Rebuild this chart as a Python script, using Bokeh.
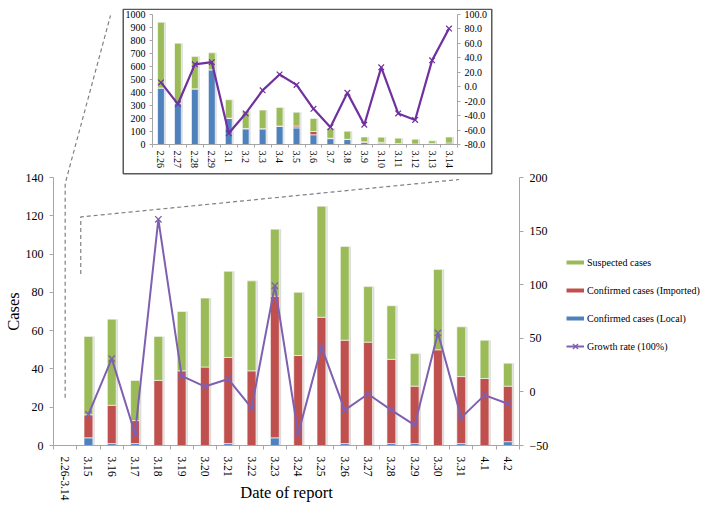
import numpy as np
from bokeh.plotting import figure
from bokeh.models import (Range1d, LinearAxis, FixedTicker, SingleIntervalTicker,
                          PrintfTickFormatter, ColumnDataSource, Legend, LegendItem)
from bokeh.transform import dodge
from bokeh.embed import file_html
from bokeh.resources import INLINE

# ---------------- data: main chart (3.15 - 4.2) ----------------
main_dates = ["2.26-3.14", "3.15", "3.16", "3.17", "3.18", "3.19", "3.20", "3.21", "3.22",
              "3.23", "3.24", "3.25", "3.26", "3.27", "3.28", "3.29", "3.30", "3.31", "4.1", "4.2"]
main_local = [0, 4, 1, 1, 0, 0, 0, 1, 0, 4, 0, 0, 1, 0, 1, 1, 0, 1, 0, 2]
main_imported = [0, 12, 20, 12, 34, 39, 41, 45, 39, 74, 47, 67, 54, 54, 44, 30, 50, 35, 35, 29]
main_suspected = [0, 41, 45, 21, 23, 31, 36, 45, 47, 35, 33, 58, 49, 29, 28, 17, 42, 26, 20, 12]
main_growth = [None, -21, 31, -39, 161, 15, 5, 12, -15, 99, -39, 42, -17, -2, -17, -31, 55, -24, -3, -11]

# ---------------- data: inset (2.26 - 3.14) ----------------
inset_dates = ["2.26", "2.27", "2.28", "2.29", "3.1", "3.2", "3.3", "3.4", "3.5", "3.6",
               "3.7", "3.8", "3.9", "3.10", "3.11", "3.12", "3.13", "3.14"]
inset_local = [435, 320, 428, 575, 200, 120, 120, 140, 128, 75, 45, 38, 15, 8, 4, 2, 3, 3]
inset_imported = [0, 0, 0, 0, 3, 3, 2, 2, 14, 25, 3, 2, 6, 8, 3, 2, 5, 9]
inset_suspected = [505, 459, 248, 130, 141, 132, 143, 143, 106, 100, 77, 62, 37, 40, 42, 36, 20, 45]
inset_growth = [6, -24, 31, 34, -64.5, -37, -5, 17, 2.5, -30.6, -56, -8.5, -52.6, 26.8, -37, -46, 36.5, 80.5]

series_names = ["Suspected cases", "Confirmed cases (Imported)", "Confirmed cases (Local)", "Growth rate (100%)"]

# ---------------- styles ----------------
FONT = "Liberation Serif"
GREEN, RED, BLUE = "#9BBB59", "#C0504D", "#4F81BD"
PURPLE_MAIN, PURPLE_INSET = "#7F60B0", "#7030A0"
AXIS_GRAY = "#A6A6A6"
SHADOW = "#DCDCDC"

PAGE_MARGIN = 8
W, H = 693, 504
MAIN_L, MAIN_R, MAIN_T, MAIN_B = 47, 519, 177, 452
INS_X, INS_W, INS_H = 114, 370, 166
LEG_X, LEG_BOTTOM = 558, 348
NAN = float("nan")


def source(dates, local, imported, suspected, growth):
    n = len(dates)
    return ColumnDataSource(dict(
        x=list(range(n)), local=local, imported=imported, suspected=suspected,
        total=list(np.add(np.add(local, imported), suspected)),
        growth=np.array(growth, dtype=float)))


def style_axis(ax, size):
    ax.axis_line_color = AXIS_GRAY
    ax.major_tick_line_color = AXIS_GRAY
    ax.minor_tick_line_color = None
    ax.major_tick_in = 0
    ax.major_label_text_font = FONT
    ax.major_label_text_font_size = size
    ax.major_label_text_color = "#000000"
    ax.axis_label_text_font = FONT
    ax.axis_label_text_font_style = "normal"
    ax.axis_label_text_color = "#000000"


def x_axis(dates, size, tick_len, standoff):
    n = len(dates)
    ax = LinearAxis(ticker=FixedTicker(ticks=list(range(n)),
                                       minor_ticks=[i - 0.5 for i in range(n + 1)]),
                    major_label_overrides={i: d for i, d in enumerate(dates)})
    style_axis(ax, size)
    ax.major_tick_line_color = None
    ax.major_tick_out = 0
    ax.minor_tick_line_color = AXIS_GRAY
    ax.minor_tick_out = tick_len
    ax.minor_tick_in = 0
    ax.major_label_orientation = "vertical"
    ax.major_label_standoff = standoff
    return ax


def draw_bars(p, src, width, shadow_off):
    p.vbar(x=dodge("x", shadow_off), top="total", width=width + 0.04,
           source=src, fill_color=SHADOW, line_color=None)
    return p.vbar_stack(["local", "imported", "suspected"], x="x", width=width, source=src,
                        fill_color=[BLUE, RED, GREEN], line_color="white", line_width=0.6)


# ================= main chart =================
src_main = source(main_dates, main_local, main_imported, main_suspected, main_growth)
main = figure(width=W, height=H, output_backend="svg", toolbar_location=None, title=None,
              x_range=Range1d(-0.5, len(main_dates) - 0.5), y_range=Range1d(0, 140),
              x_axis_type=None, y_axis_type=None,
              min_border_left=MAIN_L, min_border_right=W - MAIN_R,
              min_border_top=MAIN_T, min_border_bottom=H - MAIN_B)
main.outline_line_color = None
main.extra_y_ranges = {"growth": Range1d(-50, 200)}

xa = x_axis(main_dates, "11.5px", 4, 7)
xa.axis_label = "Date of report"
xa.axis_label_text_font_size = "16.5px"
xa.axis_label_standoff = -21
main.add_layout(xa, "below")

ya = LinearAxis(ticker=SingleIntervalTicker(interval=20), axis_label="Cases")
style_axis(ya, "12px")
ya.major_tick_out = 4
ya.major_label_standoff = 6
ya.axis_label_standoff = 0
ya.axis_label_text_font_size = "16.5px"
main.add_layout(ya, "left")

ra = LinearAxis(y_range_name="growth", ticker=SingleIntervalTicker(interval=50))
style_axis(ra, "12px")
ra.major_tick_out = 4
ra.major_label_standoff = 6
main.add_layout(ra, "right")

draw_bars(main, src_main, 0.38, 0.06)
main.line("x", "growth", source=src_main, y_range_name="growth",
          line_color=PURPLE_MAIN, line_width=2)
main.scatter("x", "growth", source=src_main, y_range_name="growth", marker="x",
             size=9, line_color=PURPLE_MAIN, line_width=1.4)

# ================= inset =================
src_ins = source(inset_dates, inset_local, inset_imported, inset_suspected, inset_growth)
inset = figure(width=INS_W, height=INS_H, output_backend="svg", toolbar_location=None, title=None,
               x_range=Range1d(-0.5, len(inset_dates) - 0.5), y_range=Range1d(0, 1000),
               x_axis_type=None, y_axis_type=None,
               min_border_left=30, min_border_right=35, min_border_top=6, min_border_bottom=30)
inset.outline_line_color = None
inset.extra_y_ranges = {"growth": Range1d(-80, 100)}

ixa = x_axis(inset_dates, "10px", 3, 3)
inset.add_layout(ixa, "below")
iya = LinearAxis(ticker=SingleIntervalTicker(interval=100))
style_axis(iya, "10px")
iya.major_tick_out = 3
iya.major_label_standoff = 3
inset.add_layout(iya, "left")
ira = LinearAxis(y_range_name="growth", ticker=SingleIntervalTicker(interval=20),
                 formatter=PrintfTickFormatter(format="%.1f"))
style_axis(ira, "10px")
ira.major_tick_out = 3
ira.major_label_standoff = 3
inset.add_layout(ira, "right")

draw_bars(inset, src_ins, 0.4, 0.07)
inset.line("x", "growth", source=src_ins, y_range_name="growth", line_color=PURPLE_INSET, line_width=2.2)
inset.scatter("x", "growth", source=src_ins, y_range_name="growth", marker="x", size=8,
              line_color=PURPLE_INSET, line_width=1.2)
inset.styles = {"position": "absolute", "left": f"{PAGE_MARGIN + INS_X}px", "top": f"{PAGE_MARGIN}px"}

# ================= overlay: callout frame, dashed guides, legend =================
decor = figure(width=W, height=H, output_backend="svg", toolbar_location=None, title=None,
               x_range=Range1d(0, W), y_range=Range1d(H, 0),
               x_axis_type=None, y_axis_type=None, min_border=0)
decor.outline_line_color = None
decor.background_fill_color = None
decor.border_fill_color = None

band = (MAIN_R - MAIN_L) / len(main_dates)
ypx = (MAIN_B - MAIN_T) / 140.0
gx1 = MAIN_L + 0.41 * band
gx2 = MAIN_L + 1.07 * band
decor.multi_line(xs=[[gx1, gx1, 102], [gx2, gx2, MAIN_L + 17.1 * band]],
                 ys=[[MAIN_B - 32 * ypx, MAIN_T - 2, 7],
                     [MAIN_B - 95 * ypx, MAIN_B - 124 * ypx, INS_H + 5]],
                 line_color="#808080", line_width=1.2, line_dash="4 3")
decor.quad(left=INS_X + 0.75, right=INS_X + INS_W - 0.75, top=0.75, bottom=INS_H - 0.75,
           fill_color=None, line_color="#595959", line_width=1.5)

# legend keys drawn like the original (thin colour strips, line with x marker);
# they hold a single NaN point so nothing is plotted by them
key_s = decor.line(x=[NAN], y=[NAN], line_color=GREEN, line_width=4)
key_i = decor.line(x=[NAN], y=[NAN], line_color=RED, line_width=4)
key_l = decor.line(x=[NAN], y=[NAN], line_color=BLUE, line_width=4)
key_g = decor.line(x=[NAN], y=[NAN], line_color=PURPLE_MAIN, line_width=2)
key_m = decor.scatter(x=[NAN], y=[NAN], marker="x", size=9, line_color=PURPLE_MAIN, line_width=1.4)
legend = Legend(items=[LegendItem(label=series_names[0], renderers=[key_s]),
                       LegendItem(label=series_names[1], renderers=[key_i]),
                       LegendItem(label=series_names[2], renderers=[key_l]),
                       LegendItem(label=series_names[3], renderers=[key_g, key_m])],
                location=(LEG_X, H - LEG_BOTTOM), glyph_width=18, glyph_height=20, spacing=8,
                padding=2, margin=0, label_standoff=3, label_text_font=FONT,
                label_text_font_size="10px", label_text_color="#000000",
                border_line_color=None, background_fill_alpha=0)
decor.add_layout(legend, "center")
decor.styles = {"position": "absolute", "left": f"{PAGE_MARGIN}px", "top": f"{PAGE_MARGIN}px"}

open("out.html", "w").write(file_html([main, inset, decor], INLINE))
